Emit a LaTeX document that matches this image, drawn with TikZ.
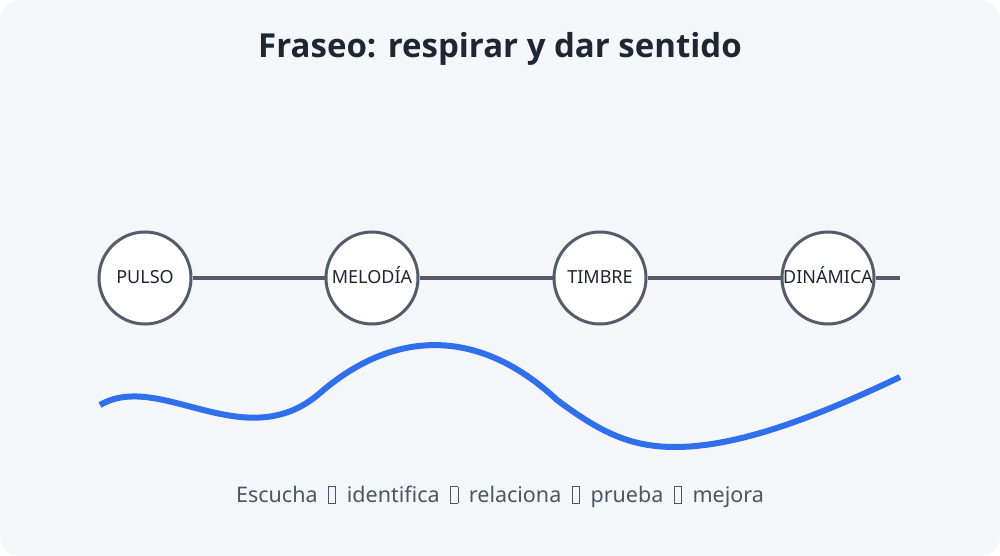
\documentclass[tikz,border=0pt]{standalone}
\usepackage{fontspec}
\setmainfont{Noto Sans}
\newfontfamily\headfont{Open Sans}
\usepackage{tikz}
\usetikzlibrary{positioning}

\definecolor{panelbg}{HTML}{F5F6FA}
\definecolor{inkdark}{HTML}{1F2533}
\definecolor{slate}{HTML}{545C6C}
\definecolor{textgray}{HTML}{4B5563}
\definecolor{wave}{HTML}{2F6FEB}

\newcommand\tofubox{\hspace{5pt}{\fboxsep=0pt\fboxrule=0.8pt\fbox{\rule{0pt}{0.72em}\hspace{0.3em}}}\hspace{5pt}}

\begin{document}
\begin{tikzpicture}[
  x=1pt,y=-1pt,
  every node/.style={align=center},
  title/.style={font=\headfont\fontsize{33}{40}\selectfont\bfseries,text=inkdark},
  stage/.style={draw=slate,line width=3pt,circle,fill=white,minimum size=92pt,
                inner sep=0pt,text height=11.5pt,text depth=0pt,
                font=\fontsize{18}{21}\selectfont,text=inkdark},
  link/.style={draw=slate,line width=3.5pt},
  phrase/.style={draw=wave,line width=6pt},
  caption/.style={font=\fontsize{21.5}{26}\selectfont,text=textgray}]
% panel
  \useasboundingbox (0,0) rectangle (1000,556);
  \fill[panelbg,rounded corners=20pt] (0,0) rectangle (1000,556);

  \node[title] (Title) at (500,49) {Fraseo: respirar y dar sentido};

% Position the stages on the line
  \node[stage] (Pulso)    at (145,278) {PULSO};
  \node[stage] (Melodia)  at (372,278) {MELODÍA};
  \node[stage] (Timbre)   at (600,278) {TIMBRE};
  \node[stage] (Dinamica) at (828,278) {DINÁMICA};
  \coordinate (LineEnd) at (900,278);

  \draw[link]   (Pulso)     --  (Melodia);
  \draw[link]   (Melodia)   --  (Timbre);
  \draw[link]   (Timbre)    --  (Dinamica);
  \draw[link]   (Dinamica)  --  (LineEnd);

% the phrase curve
  \coordinate (WaveStart) at (100,405);
  \coordinate (WaveEnd)   at (900,377);
  \draw[phrase] (WaveStart)
                .. controls (160,370) and (245,458) .. (320,393)
                .. controls (395,328) and (480,328) .. (557,400)
                .. controls (600,432) and (630,447) .. (675,447)
                .. controls (740,447) and (820,415) .. (WaveEnd);

  \node[caption] (Steps) at (500,497) {Escucha \tofubox{} identifica \tofubox{}
        relaciona \tofubox{} prueba \tofubox{} mejora};
\end{tikzpicture}
\end{document}
